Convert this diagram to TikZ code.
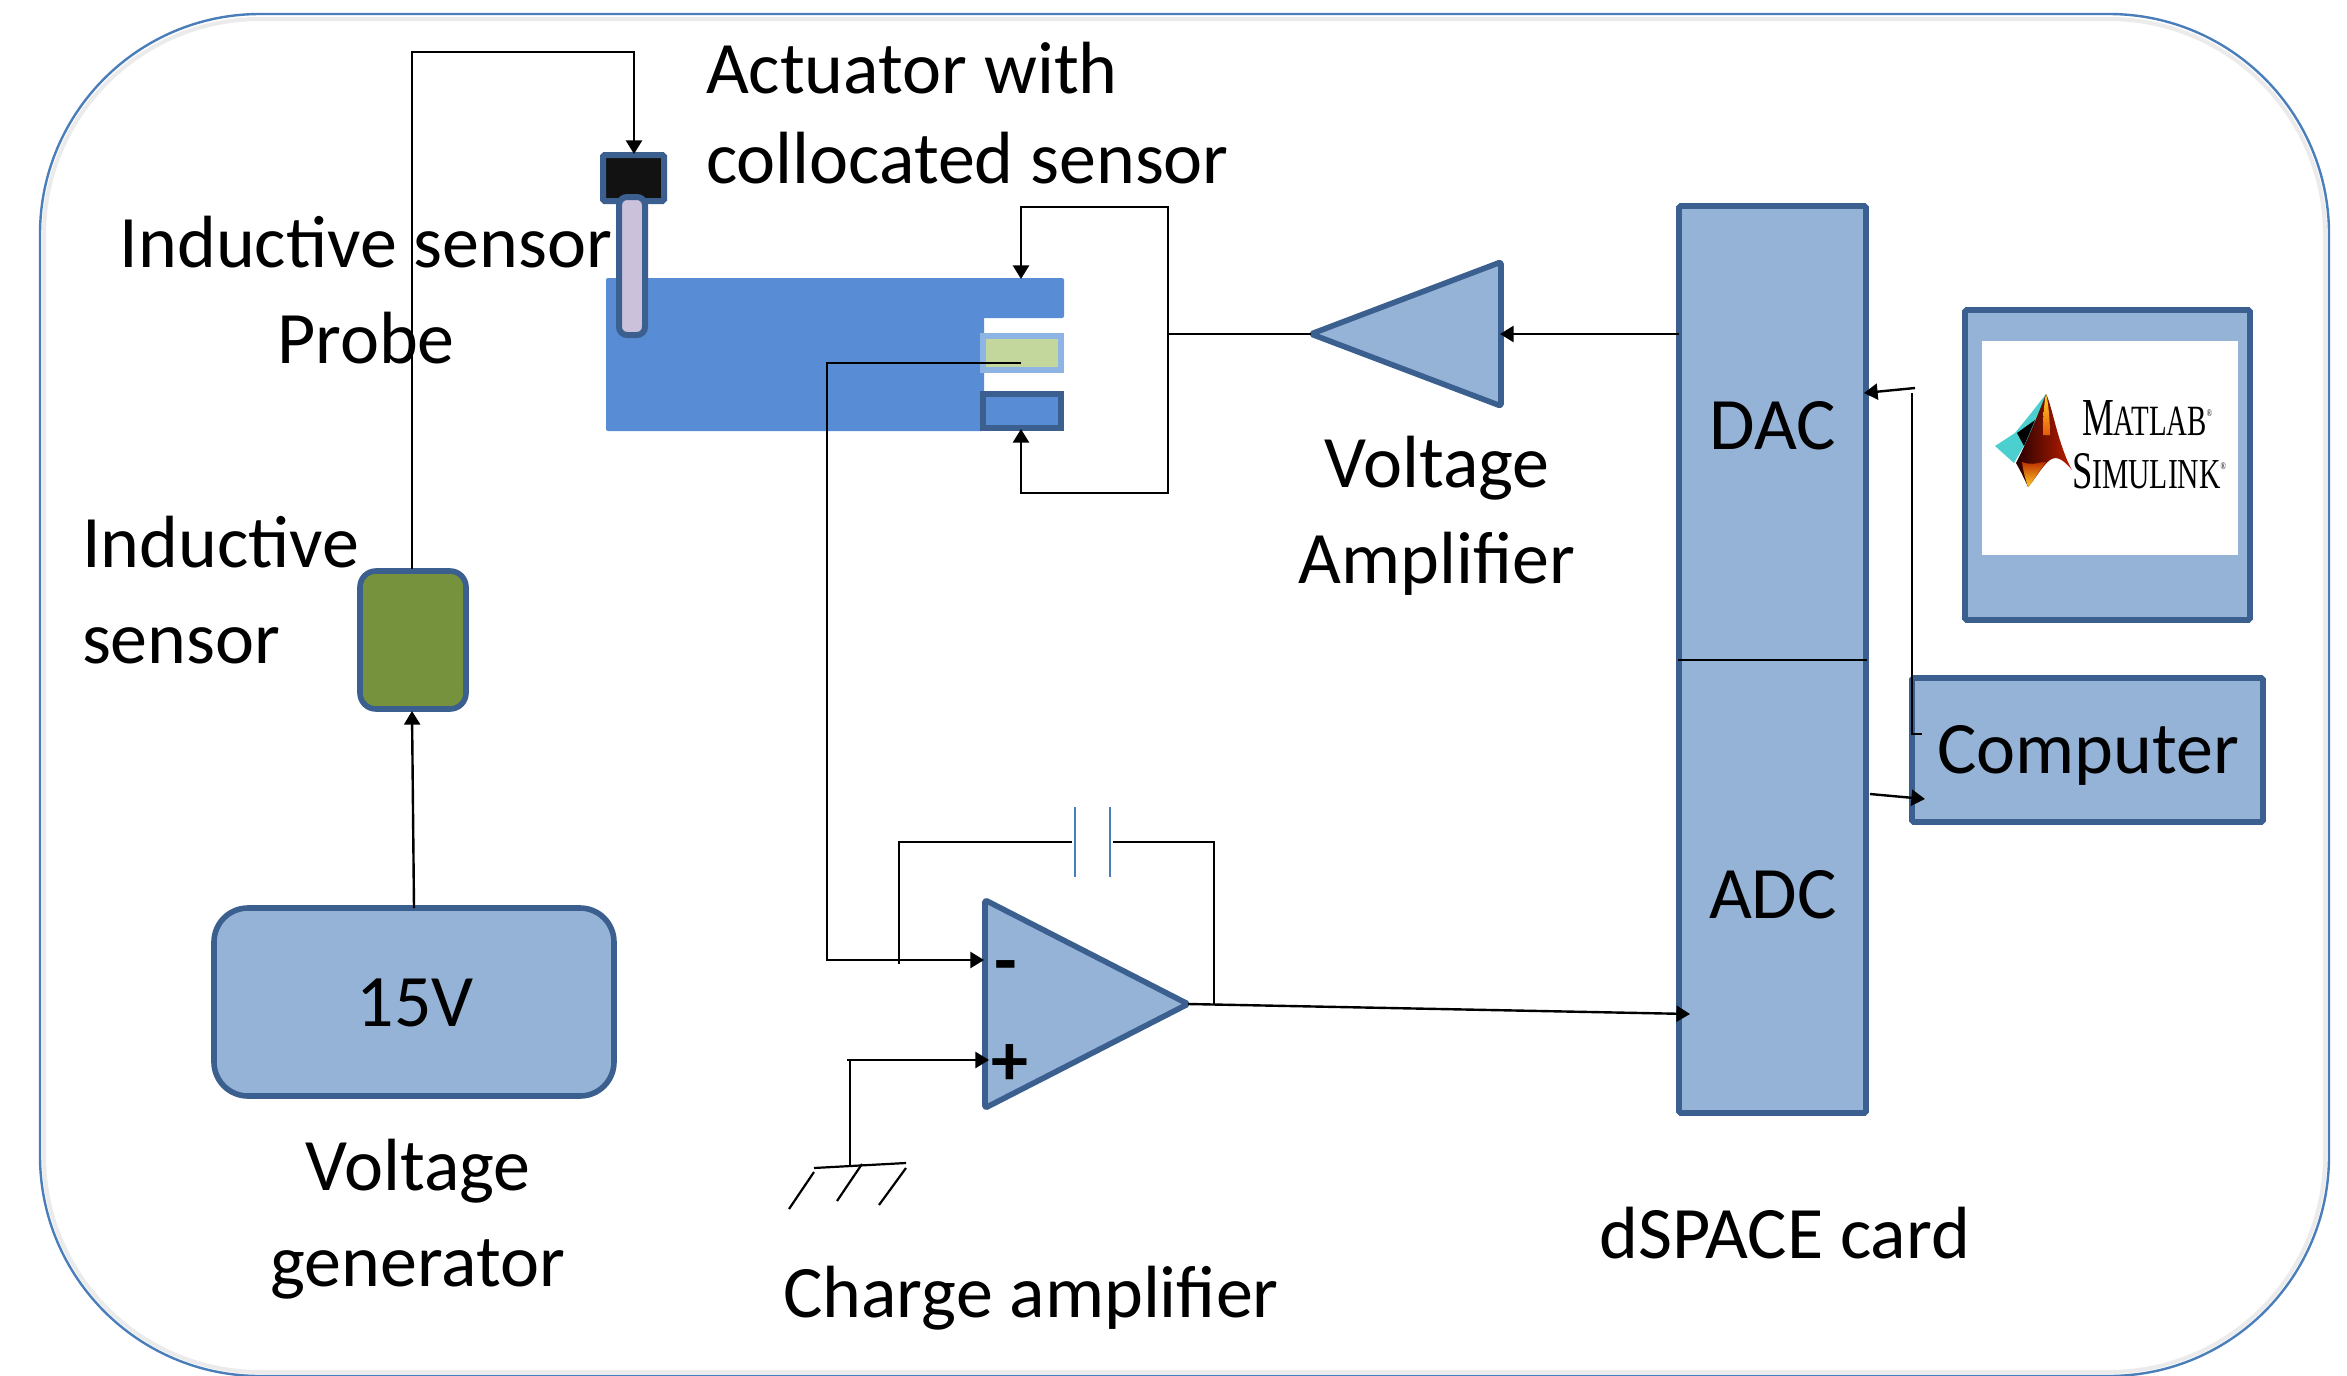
\documentclass[tikz,border=0pt]{standalone}
\usepackage{fontspec}
\setmainfont{Carlito}
\newfontfamily\logofont{Liberation Serif}
\usetikzlibrary{arrows.meta,calc}
\definecolor{boxfill}{HTML}{95B3D7}
\definecolor{boxline}{HTML}{3B5F8E}
\definecolor{bodyblue}{HTML}{588DD5}
\definecolor{frameblue}{HTML}{4A7EBB}
\tikzset{
  x=0.5pt,y=-0.5pt,
  every node/.style={inner sep=0pt,outer sep=0pt},
  wire/.style={draw=black,line width=1.2pt,line join=miter},
  mytip/.tip={Triangle[length=6.8pt,width=8pt]},
  arr/.style={wire,-{mytip}},
  bluebox/.style={draw=boxline,fill=boxfill,line width=2.8pt,rounded corners=0.8pt},
  capplate/.style={draw=frameblue,line width=1.1pt},
  lbl/.style={font=\fontsize{37}{48}\selectfont,anchor=base,align=center},
  lblL/.style={font=\fontsize{37}{48}\selectfont,anchor=base west,align=left},
}
\newcommand\pxbox[6]{\node[#2,rectangle,minimum width={(#5-#3)*0.5pt},minimum height={(#6-#4)*0.5pt}] (#1) at ({(#3+#5)/2},{(#4+#6)/2}) {};}
\begin{document}
\begin{tikzpicture}
\useasboundingbox (0,0) rectangle (2347,1376);
\fill[white] (0,0) rectangle (2347,1376);
% frame
\draw[draw=black!8,line width=2pt,rounded corners=108pt] (44,19) rectangle (2325,1372);
\draw[draw=frameblue,line width=1.2pt,rounded corners=110pt] (40,14) rectangle (2329,1376);

% beam
\pxbox{beam}{fill=bodyblue,rounded corners=1pt}{606}{278}{984}{431}
\pxbox{arm}{fill=bodyblue,rounded corners=1pt}{980}{278}{1064}{318}
\pxbox{piezo}{draw=boxline,fill=bodyblue,line width=3pt}{983}{394}{1061}{428}
\pxbox{sens}{draw={rgb,255:red,142;green,180;blue,227},fill={rgb,255:red,195;green,214;blue,155},line width=3pt}{983}{336}{1061}{370}
\pxbox{act}{draw=boxline,fill=black!93,line width=3pt,rounded corners=0.8pt}{603}{155}{664}{201}
\pxbox{probe}{draw=boxline,fill={rgb,255:red,204;green,193;blue,218},line width=3pt,rounded corners=4pt}{619}{197}{645}{335}

% boxes
\pxbox{gen}{bluebox,rounded corners=17pt}{214}{908}{614}{1096}
\pxbox{ind}{bluebox,fill={rgb,255:red,118;green,146;blue,60},rounded corners=8pt}{360}{571}{466}{709}
\pxbox{card}{bluebox}{1679}{206}{1866}{1113}
\pxbox{mon}{bluebox}{1965}{310}{2250}{620}
\pxbox{screen}{fill=white}{1982}{341}{2238}{555}
\pxbox{comp}{bluebox}{1912}{678}{2263}{822}

% amplifiers
\coordinate (vaApex) at (1311,334);
\coordinate (vaTop) at (1501,262);
\coordinate (vaBot) at (1501,406);
\coordinate (vaIn) at (1500,334);
\draw[bluebox,line join=round] (vaApex) -- (vaTop) -- (vaBot) -- cycle;
\coordinate (oaApex) at (1188,1004);
\coordinate (oaTop) at (985,900);
\coordinate (oaBot) at (985,1108);
\draw[bluebox,line join=round] (oaApex) -- (oaTop) -- (oaBot) -- cycle;

% card divider
\draw[draw=black,line width=1.1pt] (1678,660) -- (1867,660);

% wires: sensor chain
\coordinate (w1) at (412,52);
\coordinate (w2) at (634,52);
\draw[arr] (gen.north) -- (412,711);
\draw[arr] (412,569) -- (w1) -- (w2) -- (634,154);

% voltage amp
\coordinate (lt0) at (1021,279);
\coordinate (lt1) at (1021,207);
\coordinate (lt2) at (1168,207);
\coordinate (lt3) at (1168,493);
\coordinate (lt4) at (1021,493);
\coordinate (lt5) at (1021,429);
\coordinate (fb) at (1168,334);
\draw[wire,{mytip}-{mytip}] (lt0) -- (lt1) -- (lt2) -- (lt3) -- (lt4) -- (lt5);
\draw[wire] (fb) -- (vaApex);
\draw[arr] (vaApex -| card.west) -- (vaIn);

% charge signal
\coordinate (s1) at (1021,363);
\coordinate (s2) at (827,363);
\coordinate (s3) at (827,960);
\coordinate (s4) at (984,960);
\draw[arr] (s1) -- (s2) -- (s3) -- (s4);
\coordinate (f0) at (899,964);
\coordinate (f1) at (899,842);
\coordinate (f2) at (1072,842);
\coordinate (f3) at (1113,842);
\coordinate (f4) at (1214,842);
\coordinate (f5) at (1214,1004);
\draw[wire] (f0) -- (f1) -- (f2);
\draw[wire] (f3) -- (f4) -- (f5);
\draw[capplate] (1075,807) -- (1075,877);
\draw[capplate] (1110,807) -- (1110,877);

% output
\coordinate (adcIn) at (1690,1014);
\draw[arr] (oaApex) -- (adcIn);

% ground
\coordinate (g0) at (847,1060);
\coordinate (g1) at (850,1060);
\coordinate (g2) at (850,1165);
\coordinate (gin) at (989,1060);
\draw[arr] (g0) -- (gin);
\draw[wire] (g1) -- (g2);
\draw[wire,line width=1.1pt] (814,1168) -- (906,1163);
\draw[wire,line width=1.1pt] (814,1172) -- (789,1209);
\draw[wire,line width=1.1pt] (862,1164) -- (837,1201);
\draw[wire,line width=1.1pt] (906,1168) -- (879,1205);

% computer links
\coordinate (d0) at (1915,388);
\coordinate (d1) at (1864,393);
\draw[arr] (d0) -- (d1);
\draw[wire,line width=1.1pt] (1912,393) -- (1912,734) -- (1922,734);
\coordinate (a0) at (1870,794);
\coordinate (a1) at (1925,799);
\draw[arr] (a0) -- (a1);

% labels
\node[lblL,font=\fontsize{37}{45}\selectfont] (tAct) at (706,183) {Actuator with\\collocated sensor};
\node[lbl] (tProbe) at (366,363) {Inductive sensor\\Probe};
\node[lblL] (tInd) at (82,663) {Inductive\\sensor};
\node[lbl] (tGen) at (418,1286) {Voltage\\generator};
\node[lbl] (tVA) at (1437,583) {Voltage\\Amplifier};
\node[lbl] (t15) at (415,1026) {15V};
\node[lbl] (tDAC) at (1773,449) {DAC};
\node[lbl] (tADC) at (1773,918) {ADC};
\node[lbl] (tComp) at (2088,773) {Computer};
\node[lbl] (tCard) at (1785,1258) {dSPACE card};
\node[lbl] (tCharge) at (1031,1317) {Charge amplifier};
\node[lbl,font=\fontsize{37}{48}\bfseries\selectfont] (tMinus) at (1006,985) {-};
\node[lbl,font=\fontsize{37}{48}\bfseries\selectfont] (tPlus) at (1010,1085) {+};

% logo
\node[anchor=base west] (tMatlab) at (2082,435) {\resizebox{65pt}{17.5pt}{\logofont\fontsize{26}{26}\selectfont M\fontsize{21}{21}\selectfont ATLAB\smash{\raisebox{9pt}{\fontsize{5}{5}\selectfont ®}}}};
\node[anchor=base west] (tSimulink) at (2072,488) {\resizebox{77pt}{17.5pt}{\logofont\fontsize{26}{26}\selectfont S\fontsize{21}{21}\selectfont IMULINK\smash{\raisebox{9pt}{\fontsize{5}{5}\selectfont ®}}}};
\fill[fill={rgb,255:red,75;green,207;blue,207}] (1995,446) -- (2015,433) -- (2032,412) -- (2046,394) -- (2036,425) -- (2014,463) -- cycle;
\shade[left color=black!85!red,middle color={rgb,255:red,225;green,80;blue,10},right color={rgb,255:red,190;green,30;blue,0}] (2046,394) .. controls (2052,405) and (2058,445) .. (2072,470) .. controls (2062,458) and (2056,456) .. (2050,460) .. controls (2042,466) and (2036,478) .. (2028,487) .. controls (2024,478) and (2020,470) .. (2016,463) .. controls (2024,448) and (2036,420) .. (2046,394) -- cycle;
\shade[top color={rgb,255:red,190;green,50;blue,0},bottom color={rgb,255:red,255;green,205;blue,40}] (2022,462) .. controls (2032,466) and (2040,462) .. (2046,462) .. controls (2040,470) and (2034,480) .. (2028,487) .. controls (2025,478) and (2023,470) .. (2022,462) -- cycle;
\shade[top color={rgb,255:red,255;green,210;blue,40},bottom color={rgb,255:red,230;green,90;blue,10}] (2046,394) .. controls (2048,400) and (2050,420) .. (2050,435) -- (2043,435) .. controls (2043,420) and (2044,402) .. (2046,394) -- cycle;
\fill[black] (2017,433) -- (2035,420) -- (2024,446) -- cycle;
\end{tikzpicture}
\end{document}
